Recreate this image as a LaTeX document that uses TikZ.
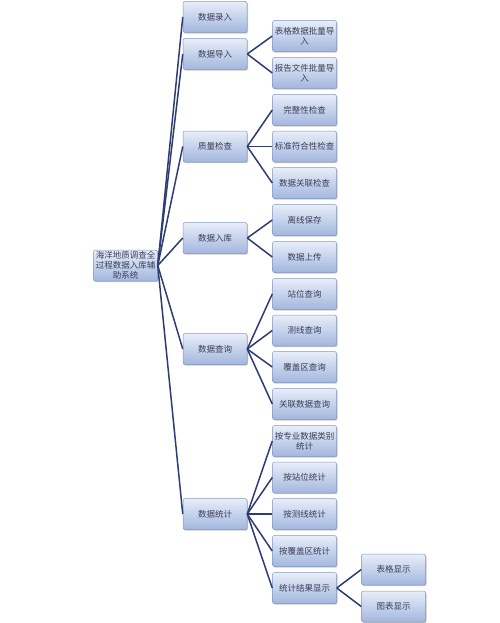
\documentclass[tikz,border=0pt]{standalone}
\usepackage{fontspec}
\setmainfont{Noto Sans CJK SC}
\usetikzlibrary{shadows}
\definecolor{boxtop}{HTML}{E8EEF9}
\definecolor{boxbot}{HTML}{A2B6DE}
\definecolor{boxline}{HTML}{8496C0}
\definecolor{linkc}{HTML}{2E3C74}
\definecolor{txtc}{HTML}{3C3E58}
\tikzset{
  box/.style={draw=boxline, line width=0.5pt, top color=boxtop, bottom color=boxbot,
    rounded corners=2pt, minimum width=64pt, minimum height=31pt, inner sep=1pt,
    align=center, font=\fontsize{8.5}{10}\selectfont, text=txtc,
    drop shadow={shadow xshift=1pt, shadow yshift=-1.2pt, opacity=0.35, fill=black!60}},
  link/.style={draw=linkc, line width=1.5pt}
}
\begin{document}
\begin{tikzpicture}[x=1pt,y=1pt]
\useasboundingbox[fill=white] (0,0) rectangle (500,-623);
% root
\node[box] (root) at (125.5,-265.5) {海洋地质调查全\\过程数据入库辅\\助系统};
% level 1
\node[box] (l1) at (215,-17) {数据录入};
\node[box] (l2) at (215,-54) {数据导入};
\node[box] (l3) at (215,-146.5) {质量检查};
\node[box] (l4) at (215,-238) {数据入库};
\node[box] (l5) at (215,-349) {数据查询};
\node[box] (l6) at (215,-514) {数据统计};
% level 2
\node[box] (a1) at (304.5,-36) {表格数据批量导\\入};
\node[box] (a2) at (304.5,-73) {报告文件批量导\\入};
\node[box] (b1) at (304.5,-110) {完整性检查};
\node[box] (b2) at (304.5,-146.5) {标准符合性检查};
\node[box] (b3) at (304.5,-183) {数据关联检查};
\node[box] (c1) at (304.5,-220) {离线保存};
\node[box] (c2) at (304.5,-257) {数据上传};
\node[box] (d1) at (304.5,-294) {站位查询};
\node[box] (d2) at (304.5,-330.5) {测线查询};
\node[box] (d3) at (304.5,-367) {覆盖区查询};
\node[box] (d4) at (304.5,-404) {关联数据查询};
\node[box] (e1) at (304.5,-441) {按专业数据类别\\统计};
\node[box] (e2) at (304.5,-477.5) {按站位统计};
\node[box] (e3) at (304.5,-514) {按测线统计};
\node[box] (e4) at (304.5,-551) {按覆盖区统计};
\node[box] (e5) at (304.5,-588) {统计结果显示};
% level 3
\node[box] (f1) at (393.5,-569.5) {表格显示};
\node[box] (f2) at (393.5,-606.5) {图表显示};
% links
\foreach \c in {l1,l2,l3,l4,l5,l6} \draw[link] (root.east) -- (\c.west);
\foreach \c in {a1,a2} \draw[link] (l2.east) -- (\c.west);
\foreach \c in {b1,b2,b3} \draw[link] (l3.east) -- (\c.west);
\foreach \c in {c1,c2} \draw[link] (l4.east) -- (\c.west);
\foreach \c in {d1,d2,d3,d4} \draw[link] (l5.east) -- (\c.west);
\foreach \c in {e1,e2,e3,e4,e5} \draw[link] (l6.east) -- (\c.west);
\foreach \c in {f1,f2} \draw[link] (e5.east) -- (\c.west);
\end{tikzpicture}
\end{document}
